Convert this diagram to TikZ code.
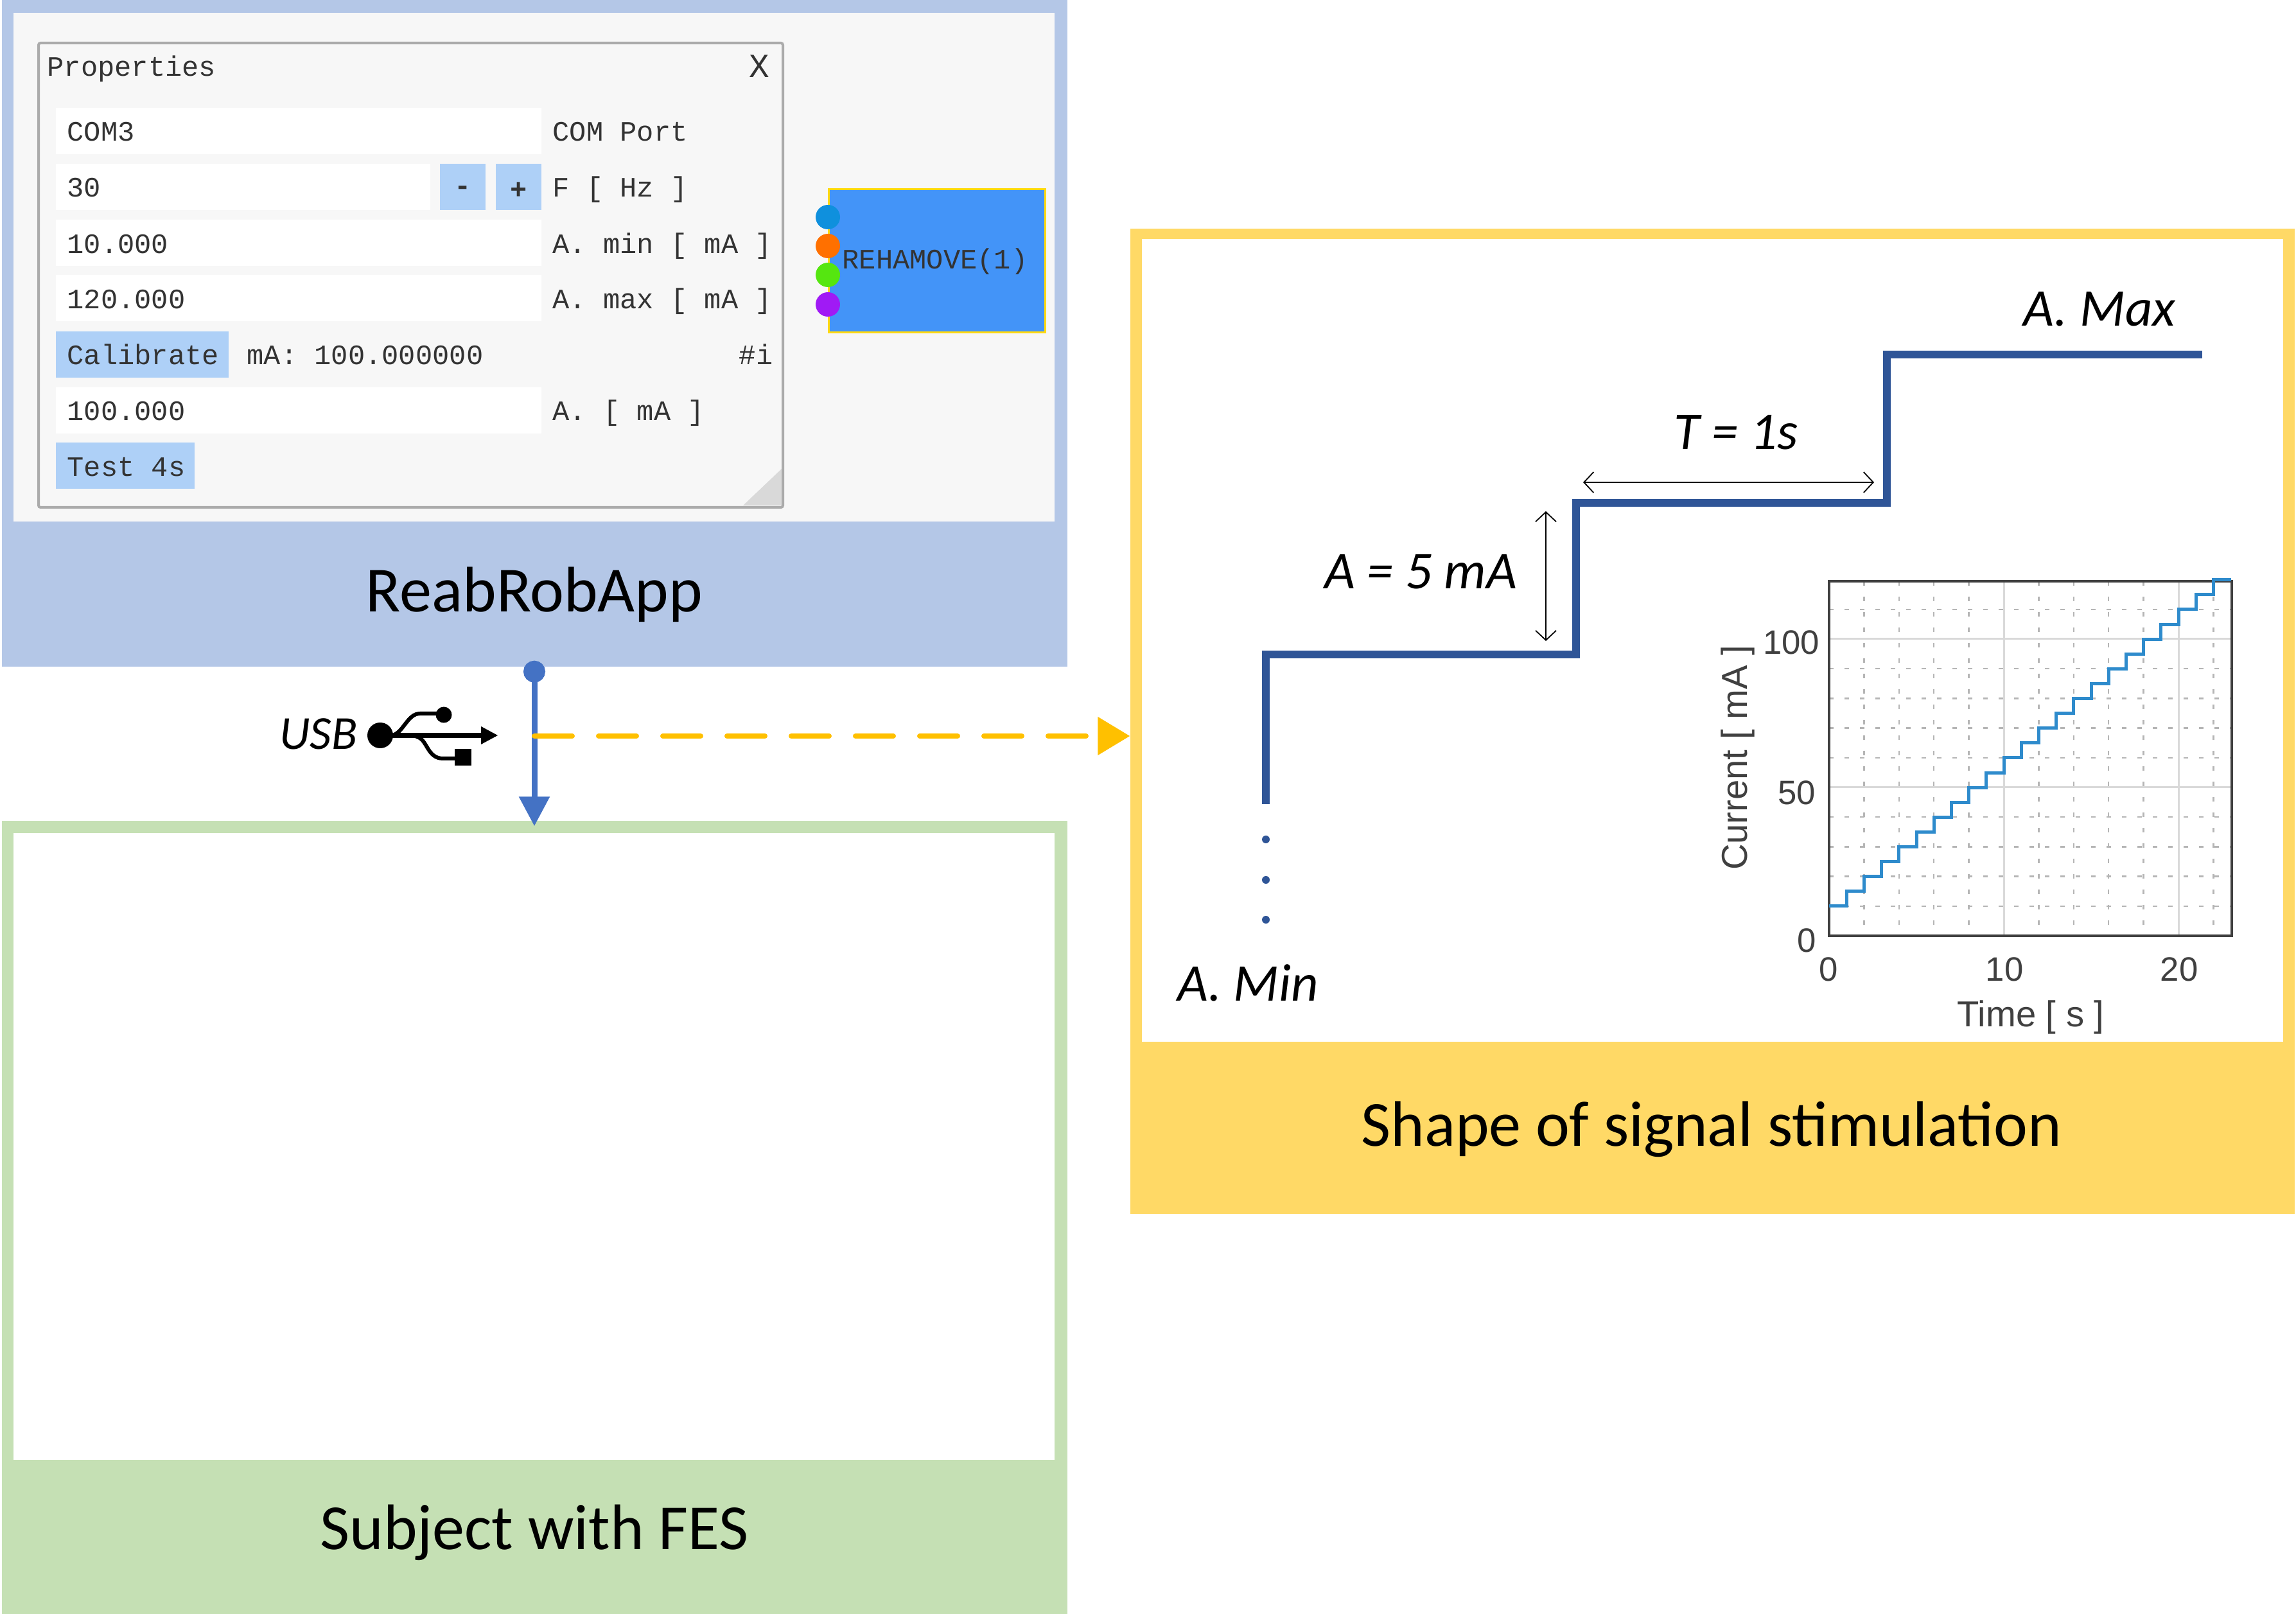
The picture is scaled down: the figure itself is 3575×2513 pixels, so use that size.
\documentclass[tikz,border=0pt]{standalone}
\usepackage{fontspec}
\setmainfont{Carlito}
\setmonofont{Liberation Mono}
\newfontfamily\plotfont{Liberation Sans}
\usetikzlibrary{arrows.meta}
\definecolor{bandblue}{HTML}{B4C7E7}
\definecolor{bandgreen}{HTML}{C5E0B4}
\definecolor{bandyellow}{HTML}{FFD966}
\definecolor{winbg}{HTML}{F7F7F7}
\definecolor{winedge}{HTML}{ABABAB}
\definecolor{winbtn}{HTML}{AED0F7}
\definecolor{winink}{HTML}{333333}
\definecolor{blockblue}{HTML}{4394F8}
\definecolor{blockedge}{HTML}{FFD90F}
\definecolor{usbblue}{HTML}{4472C4}
\definecolor{dashgold}{HTML}{FFC000}
\definecolor{stairblue}{HTML}{2F5597}
\definecolor{plotink}{HTML}{404040}
\definecolor{plotgrid}{HTML}{D9D9D9}
\definecolor{plotminor}{HTML}{B5B5B5}
\definecolor{plotline}{HTML}{2E8BCC}
\tikzset{
  band/.style={fill=#1, draw=none, inner sep=0pt},
  hole/.style={fill=white, draw=none, inner sep=0pt},
  caption/.style={font=\fontsize{28.5}{34}\selectfont, text=black, inner sep=0pt},
  note/.style={font=\fontsize{23.5}{28}\selectfont\itshape, text=black, inner sep=0pt},
  mono/.style={font=\fontsize{12.45}{15}\selectfont\ttfamily, text=winink, inner sep=0pt},
  field/.style={fill=white, draw=none, inner sep=0pt, minimum height=7.2mm},
  btn/.style={fill=winbtn, draw=none, inner sep=0pt, minimum height=7.2mm},
  port/.style={circle, fill=#1, draw=none, minimum size=3.8mm, inner sep=0pt},
  usbarr/.style={{Circle[length=3.4mm]}-{Triangle[length=4.6mm,width=4.6mm]}, line width=0.9mm, draw=usbblue},
  goldarr/.style={-{Triangle[length=5mm,width=5.8mm]}, line width=0.8mm, draw=dashgold, line cap=round, dash pattern=on 5.9mm off 4.1mm},
  stair/.style={line width=1.15mm, draw=stairblue, miter limit=10},
  dim/.style={{Straight Barb[length=1.5mm,width=3.2mm]}-{Straight Barb[length=1.5mm,width=3.2mm]}, line width=0.18mm, draw=black},
  tick/.style={font=\fontsize{15}{18}\selectfont\plotfont, text=plotink, inner sep=0pt},
  axisname/.style={font=\fontsize{16}{19}\selectfont\plotfont, text=plotink, inner sep=0pt},
  major/.style={line width=0.3mm, draw=plotgrid},
  minor/.style={line width=0.25mm, draw=plotminor, dash pattern=on 0.7mm off 1.7mm},
}
\begin{document}
\begin{tikzpicture}[x=0.1mm,y=-0.1mm]
  \useasboundingbox (0,0) rectangle (3575,2513);
  % three panels
  \node[band=bandblue, minimum width=165.9mm, minimum height=103.8mm] (app) at (832,519) {};
  \node[hole, fill=winbg, minimum width=162.1mm, minimum height=79.2mm] (appin) at (831.5,416) {};
  \node[band=bandgreen, minimum width=165.9mm, minimum height=123.5mm] (subject) at (832,1895.5) {};
  \node[hole, minimum width=162.1mm, minimum height=97.6mm] (subjectin) at (831.5,1785) {};
  \node[band=bandyellow, minimum width=181.3mm, minimum height=153.4mm] (shape) at (2666.5,1123) {};
  \node[hole, minimum width=177.7mm, minimum height=125mm] (shapein) at (2666.5,997) {};
  \node[caption] (applab) at (832,926) {ReabRobApp};
  \node[caption] (subjectlab) at (832,2386) {Subject with FES};
  \node[caption] (shapelab) at (2665,1758) {Shape of signal stimulation};

  % properties window
  \node[draw=winedge, fill=winbg, line width=0.4mm, rounded corners=0.3mm, minimum width=115.9mm, minimum height=72.3mm, inner sep=0pt] (win) at (639.5,428.5) {};
  \fill[plotgrid] (1157,787) -- (1217,730) -- (1217,787) -- cycle;
  \node[mono, anchor=base west] (wintitle) at (73,119) {Properties};
  \node[mono, font=\fontsize{15}{18}\selectfont\ttfamily] (winclose) at (1182,103) {X};
  \foreach \i/\y/\val/\lab in {1/204/COM3/COM Port,3/378.5/10.000/A. min [ mA ],4/464.5/120.000/A. max [ mA ],6/639/100.000/A. [ mA ]} {
    \node[field, minimum width=75.6mm] (row\i) at (465,\y) {};
    \node[mono, anchor=base west] (val\i) at (104,\y+16) {\val};
    \node[mono, anchor=base west] (lab\i) at (860,\y+16) {\lab};
  }
  \node[field, minimum width=58.3mm] (row2) at (378.5,291) {};
  \node[mono, anchor=base west] (val2) at (104,307) {30};
  \node[mono, anchor=base west] (lab2) at (860,307) {F [ Hz ]};
  \node[btn, minimum width=7.1mm] (minus) at (720.5,291) {};
  \node[btn, minimum width=7.1mm] (plus) at (807.5,291) {};
  \node[mono, font=\fontsize{12.45}{15}\selectfont\ttfamily\bfseries] (minustxt) at (720.5,297) {-};
  \node[mono, font=\fontsize{12.45}{15}\selectfont\ttfamily\bfseries] (plustxt) at (807.5,297) {+};
  \node[btn, minimum width=26.9mm] (calib) at (221.5,552) {};
  \node[mono, anchor=base west] (calibtxt) at (104,568) {Calibrate};
  \node[mono, anchor=base west] (calibval) at (384,568) {mA: 100.000000};
  \node[mono, anchor=base east] (calibtag) at (1204,568) {\#i};
  \node[btn, minimum width=21.6mm] (test) at (195,725.5) {};
  \node[mono, anchor=base west] (testtxt) at (104,741.5) {Test 4s};

  % device block
  \node[fill=blockblue, draw=blockedge, line width=0.35mm, minimum width=33.7mm, minimum height=22.3mm, inner sep=0pt] (block) at (1459,406) {};
  \node[mono] (blocktxt) at (1456,407) {REHAMOVE(1)};
  \foreach \n/\y/\c in {p1/338/0F90DD,p2/383/FF7000,p3/428/55E610,p4/474/A01AF5} {
    \definecolor{portc}{HTML}{\c}
    \node[port=portc] (\n) at (1289,\y) {};
  }

  % usb link
  \draw[usbarr] ([yshift=1mm]app.south) -- ([yshift=-0.9mm]subject.north);
  \coordinate (split) at (832,1146);
  \draw[goldarr] (split) -- (shape.west |- split);
  \node[note, font=\fontsize{21}{25}\selectfont\itshape] (usblab) at (496,1143) {USB};
  % usb icon
  \fill (592,1145) circle (2mm);
  \fill (691,1113) circle (1.25mm);
  \fill (708,1166) rectangle (734,1192);
  \draw[line width=0.8mm] (592,1145) -- (752,1145);
  \fill (749,1131) -- (775,1145) -- (749,1159) -- cycle;
  \draw[line width=0.6mm] (610,1145) .. controls (628,1142) and (634,1111) .. (654,1111) -- (691,1111);
  \draw[line width=0.6mm] (648,1147) .. controls (666,1150) and (664,1181) .. (690,1181) -- (715,1181);

  % signal steps
  \coordinate (s0) at (1971,1252);
  \coordinate (s1) at (1971,1019);
  \coordinate (s2) at (2454,1019);
  \coordinate (s3) at (2454,783);
  \coordinate (s4) at (2938,783);
  \coordinate (s5) at (2938,552);
  \coordinate (s6) at (3429,552);
  \draw[stair] (s0) -- (s1) -- (s2) -- (s3) -- (s4) -- (s5) -- (s6);
  \foreach \y in {1307,1370,1432} { \fill[stairblue] (1971,\y) circle (0.6mm); }
  \coordinate (ampa) at (2407,796);
  \coordinate (ampb) at (2407,998);
  \coordinate (pera) at (2465,751);
  \coordinate (perb) at (2918,751);
  \draw[dim] (ampa) -- (ampb);
  \draw[dim] (pera) -- (perb);
  \node[note] (amplab) at (2212,890) {A = 5 mA};
  \node[note] (perlab) at (2703,673) {T = 1s};
  \node[note] (maxlab) at (3269,481) {A. Max};
  \node[note] (minlab) at (1943,1530) {A. Min};

  % current plot
  \foreach \t in {2,4,6,8,12,14,16,18,22} { \draw[minor] ({2848+27.2*\t},905) -- ++(0,552); }
  \foreach \a in {10,20,30,40,60,70,80,90,110} { \draw[minor] (2848,{1457-4.62*\a}) -- ++(627,0); }
  \foreach \t in {10,20} { \draw[major] ({2848+27.2*\t},905) -- ++(0,552); }
  \foreach \a in {50,100} { \draw[major] (2848,{1457-4.62*\a}) -- ++(627,0); }
  \node[draw=plotink, line width=0.35mm, minimum width=62.7mm, minimum height=55.2mm, inner sep=0pt] (frame) at (3161.5,1181) {};
  \draw[line width=0.5mm, draw=plotline] (2848,1411) \foreach \k in {1,...,22} { -- ++(27.2,0) -- ++(0,-23.1) } -- ++(27.2,0);
  \node[tick, anchor=east] (y100) at (2834,1000) {100};
  \node[tick, anchor=east] (y50) at (2828,1234) {50};
  \node[tick, anchor=east] (y0) at (2828,1464) {0};
  \node[tick] (x0) at (2847,1509) {0};
  \node[tick] (x10) at (3121,1509) {10};
  \node[tick] (x20) at (3393,1509) {20};
  \node[axisname] (xname) at (3162,1584) {Time [ s ]};
  \node[axisname, rotate=90] (yname) at (2706,1180) {Current [ mA ]};
\end{tikzpicture}
\end{document}
